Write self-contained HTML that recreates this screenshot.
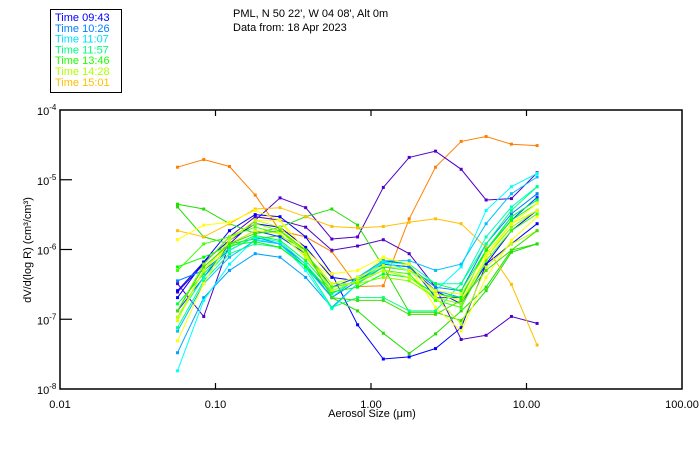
<!DOCTYPE html>
<html><head><meta charset="utf-8"><style>
html,body{margin:0;padding:0;background:#fff}
svg{display:block;font-family:"Liberation Sans",sans-serif}
</style></head><body>
<svg id="chart" width="700" height="450" viewBox="0 0 700 450">
<rect x="0" y="0" width="700" height="450" fill="#fff"/>
<g>
<rect x="50.5" y="9.5" width="71" height="83" fill="#fff" stroke="#000" stroke-width="1"/>
<g font-size="11" id="legendText"></g>
</g>
<text x="233" y="17" font-size="11">PML, N 50 22', W 04 08', Alt 0m</text>
<text x="233" y="31" font-size="11">Data from: 18 Apr 2023</text>
<g id="axes"></g>
<g id="series"></g>
<text x="372" y="417" font-size="11" text-anchor="middle">Aerosol Size (μm)</text>
<text transform="translate(31,250) rotate(-90)" font-size="11" text-anchor="middle">dV/d(log R) (cm³/cm³)</text>
</svg>
<script>
const sizes = [0.057,0.084,0.123,0.18,0.26,0.38,0.56,0.82,1.2,1.76,2.6,3.8,5.5,8.0,11.7];
const xTickValues = [0.01,0.1,1,10,100];
const xTickLabels = ["0.01","0.10","1.00","10.00","100.00"];
const yTickExps = [-4,-5,-6,-7,-8];
const legendLabels = ["Time 09:43","Time 10:26","Time 11:07","Time 11:57","Time 13:46","Time 14:28","Time 15:01"];
const legendColors = ["#0000ff","#0080ff","#00e0ff","#00ff80","#20ff00","#b0ff00","#ffc000"];
const seriesColors = ["#ff8000","#5000c8","#5000c8","#0000ff","#20e000","#20e000","#ffc000","#ffff00",
 "#0000ff","#0040ff","#0080ff","#00a0ff","#00ffff","#00c0ff","#00ffc0","#00ff80","#00ff40","#00ff00","#40ff00","#80ff00","#ffff00","#e0ff00","#c0ff00","#40e000"];
const logValues = [
[-4.82,-4.71,-4.81,-5.22,-5.73,-5.82,-6.03,-6.53,-6.52,-5.56,-4.82,-4.45,-4.38,-4.49,-4.51],
[-6.49,-6.96,-5.92,-5.58,-5.26,-5.40,-5.85,-5.82,-5.11,-4.68,-4.59,-4.85,-5.29,-5.27,-4.90],
[-6.61,-6.21,-5.82,-5.53,-5.58,-5.68,-6.01,-5.95,-5.86,-6.06,-6.54,-7.29,-7.23,-6.96,-7.06],
[-6.69,-6.18,-5.73,-5.50,-5.53,-5.82,-6.35,-7.08,-7.57,-7.54,-7.42,-7.12,-6.21,-5.92,-5.63],
[-5.39,-5.82,-5.92,-5.85,-5.80,-6.01,-6.69,-6.88,-7.20,-7.49,-7.21,-6.88,-6.54,-6.01,-5.92],
[-5.35,-5.42,-5.63,-5.77,-5.68,-5.53,-5.42,-5.65,-6.25,-6.90,-6.90,-7.02,-6.59,-6.04,-5.92],
[-5.73,-5.82,-5.63,-5.42,-5.40,-5.53,-5.67,-5.69,-5.67,-5.61,-5.56,-5.63,-5.97,-6.50,-7.37],
[-5.86,-5.65,-5.61,-5.44,-5.58,-6.11,-6.40,-6.45,-6.11,-6.25,-6.83,-7.17,-6.40,-5.87,-5.53],
[-6.59,-6.18,-5.87,-5.63,-5.68,-5.97,-6.40,-6.45,-6.21,-6.25,-6.59,-6.78,-6.21,-5.73,-5.44],
[-6.88,-6.40,-5.92,-5.73,-5.82,-6.06,-6.54,-6.40,-6.16,-6.21,-6.69,-6.69,-6.01,-5.58,-5.25],
[-6.45,-6.30,-6.01,-5.82,-5.92,-6.21,-6.69,-6.45,-6.21,-6.25,-6.54,-6.59,-5.92,-5.49,-5.20],
[-7.48,-6.69,-6.30,-6.06,-6.11,-6.40,-6.83,-6.49,-6.25,-6.30,-6.59,-6.69,-6.01,-5.53,-5.29],
[-7.74,-6.73,-6.21,-5.85,-5.92,-6.30,-6.85,-6.49,-6.18,-6.30,-6.59,-6.25,-5.44,-5.10,-4.91],
[-7.17,-6.49,-6.11,-5.87,-5.92,-6.25,-6.69,-6.40,-6.16,-6.16,-6.30,-6.21,-5.63,-5.20,-4.96],
[-6.97,-6.40,-6.01,-5.82,-5.89,-6.21,-6.64,-6.42,-6.18,-6.21,-6.49,-6.49,-5.82,-5.39,-5.10],
[-7.12,-6.45,-6.06,-5.92,-5.97,-6.25,-6.83,-6.69,-6.69,-6.88,-6.88,-6.49,-5.92,-5.44,-5.10],
[-6.78,-6.35,-5.97,-5.80,-5.87,-6.16,-6.59,-6.45,-6.25,-6.30,-6.49,-6.59,-6.01,-5.53,-5.29],
[-6.25,-6.11,-5.94,-5.89,-5.97,-6.25,-6.61,-6.54,-6.35,-6.40,-6.64,-6.69,-6.01,-5.58,-5.34],
[-6.30,-5.92,-5.82,-5.68,-5.77,-6.11,-6.54,-6.47,-6.30,-6.35,-6.73,-6.83,-6.16,-5.73,-5.49],
[-6.88,-6.21,-5.82,-5.63,-5.73,-6.06,-6.49,-6.49,-6.40,-6.45,-6.69,-6.78,-6.11,-5.68,-5.44],
[-7.31,-6.49,-5.87,-5.58,-5.58,-6.01,-6.35,-6.30,-6.11,-6.21,-6.64,-6.73,-6.11,-5.63,-5.34],
[-7.02,-6.30,-5.92,-5.73,-5.77,-6.11,-6.49,-6.40,-6.23,-6.30,-6.59,-6.64,-6.06,-5.63,-5.44],
[-6.97,-6.30,-5.87,-5.58,-5.68,-6.06,-6.59,-6.45,-6.30,-6.40,-6.69,-7.07,-6.25,-5.92,-5.73],
[-6.88,-6.25,-5.92,-5.77,-5.73,-6.01,-6.69,-6.73,-6.73,-6.93,-6.93,-6.73,-6.30,-6.01,-5.73]
];
const NS="http://www.w3.org/2000/svg";
const L=60,R=682,T=110,B=389;
function xs(v){return L+(Math.log10(v)+2)/4*(R-L);}
function ys(e){return T+(-4-e)/4*(B-T);}
function mk(tag,attrs,parent){const el=document.createElementNS(NS,tag);for(const k in attrs)el.setAttribute(k,attrs[k]);parent.appendChild(el);return el;}
const axes=document.getElementById('axes');
const frame=mk('rect',{x:L,y:T,width:R-L,height:B-T,fill:'none',stroke:'#000','stroke-width':1.5},axes);


xTickValues.forEach((v,i)=>{
 const x=xs(v);
 if(i>0&&i<xTickValues.length-1){
  const t1=mk('line',{x1:x,x2:x,y1:T,y2:T+6,stroke:'#000','stroke-width':1.2},axes);
  
  
  const t2=mk('line',{x1:x,x2:x,y1:B,y2:B-6,stroke:'#000','stroke-width':1.2},axes);
  
  
 }
 const tx=mk('text',{x:x,y:408,'font-size':11,'text-anchor':'middle'},axes);
 tx.textContent=xTickLabels[i];
 
 
});
yTickExps.forEach((e,i)=>{
 const y=ys(e);
 if(i>0&&i<yTickExps.length-1){
  const t=mk('line',{x1:L,x2:L+12,y1:y,y2:y,stroke:'#000','stroke-width':1.2},axes);
  
  
 }
 const tx=mk('text',{x:37,y:y+5,'font-size':11},axes);
 
 
 tx.appendChild(document.createTextNode('10'));
 const sp=mk('tspan',{dy:-5,'font-size':8},tx);
 sp.textContent=String(e);
});
const lg=document.getElementById('legendText');
legendLabels.forEach((s,i)=>{
 const t=mk('text',{x:55,y:21+i*10.8,fill:legendColors[i]},lg);
 t.textContent=s;
 
 
});
const sg=document.getElementById('series');
logValues.forEach((vals,si)=>{
 const g=mk('g',{},sg);
 
 
 const c=seriesColors[si%seriesColors.length];
 const pts=vals.map((e,i)=>xs(sizes[i]).toFixed(1)+','+ys(e).toFixed(1)).join(' ');
 mk('polyline',{points:pts,fill:'none',stroke:c,'stroke-width':1},g);
 vals.forEach((e,i)=>{
  const p=mk('rect',{x:xs(sizes[i])-1.5,y:ys(e)-1.5,width:3,height:3,fill:c},g);
  
  
 });
});
</script>
</body></html>
